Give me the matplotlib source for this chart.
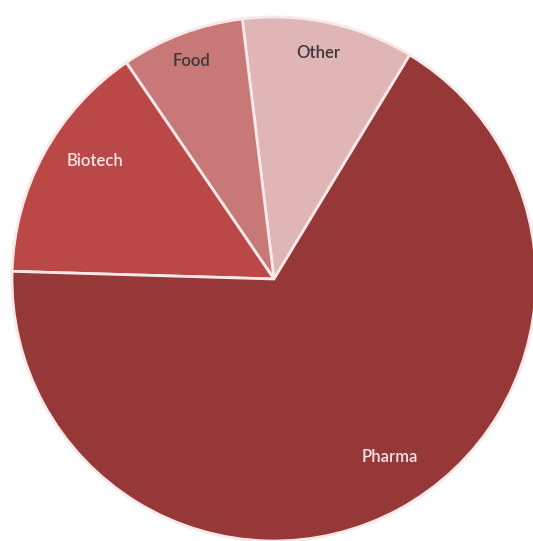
import numpy as np
import matplotlib
matplotlib.use("Agg")
import matplotlib.pyplot as plt

# market share by sector (percent)
labels = ["Other", "Food", "Biotech", "Pharma"]
shares = [10.6, 7.6, 15.0, 66.8]
colors = ["#dfb5b5", "#c97878", "#b94846", "#963837"]
text_colors = ["#3a3a3a", "#3a3a3a", "#f7e4e4", "#f7e4e4"]
label_r = [0.88, 0.89, 0.82, 0.81]
label_shift = [1.0, 0.0, -4.7, 4.5]   # degrees off the wedge middle

fig = plt.figure(figsize=(5.33, 5.41), dpi=100)
ax = fig.add_axes([12 / 533, 0, 524 / 533, 524 / 541])

wedges, _ = ax.pie(shares, colors=colors, startangle=58.8, counterclock=True,
                   radius=1.0,
                   wedgeprops=dict(edgecolor="#f8e8e8", linewidth=2.0))

for w, lab, tc, r, sh in zip(wedges, labels, text_colors, label_r, label_shift):
    mid = np.deg2rad((w.theta1 + w.theta2) / 2 + sh)
    ax.text(r * np.cos(mid), r * np.sin(mid), lab, ha="center", va="center",
            fontsize=12, fontweight="semibold", color=tc,
            family=["Lato", "DejaVu Sans"])

ax.set_xlim(-1, 1)
ax.set_ylim(-1, 1)
ax.set_aspect("equal")
ax.axis("off")

fig.savefig("out.png", dpi=100)
